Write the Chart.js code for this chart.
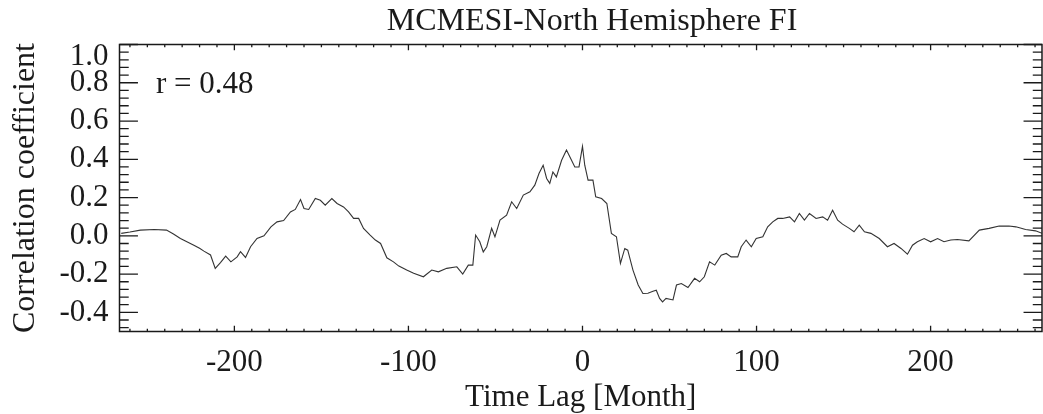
<!DOCTYPE html>
<html>
<head>
<meta charset="utf-8">
<title>MCMESI-North Hemisphere FI</title>
<script src="https://cdn.jsdelivr.net/npm/chart.js@4.4.1/dist/chart.umd.min.js"></script>
<style>
  html, body { margin: 0; padding: 0; background: #fff; overflow: hidden; }
  #wrap { width: 1043px; height: 414px; }
</style>
</head>
<body>
<div id="wrap"><canvas id="chart" width="1043" height="414"></canvas></div>
<script>
'use strict';

// ── Data ─────────────────────────────────────────────────────────────────────

const lags = [
  -265, -260, -254, -246, -239, -235, -231, -227, -223, -220, -217.5, -213.7,
  -211, -208, -205, -202, -198.4, -196.5, -193.6, -190.7, -187, -183, -179,
  -175.5, -171.7, -167.8, -165, -162, -160, -157.3, -153.5, -150.6, -147.8,
  -144, -141, -137.3, -134.4, -131.5, -128.6, -125.8, -122, -119, -116,
  -112.4, -108.6, -105.5, -101, -97, -91.4, -86.6, -82.8, -78, -72.2, -68.8,
  -65.6, -63, -61.4, -59, -57, -55, -52.2, -50.3, -47.4, -43.6, -40.7, -37.8,
  -34, -30.2, -27.4, -25, -22.6, -20.6, -18.8, -17, -15, -12, -9.2, -6.3,
  -4.4, -2, 0, 1.3, 3.2, 6, 7.6, 11, 14, 16.6, 19.5, 21.8, 24.3, 26, 29, 32,
  34.7, 37.6, 40.5, 42.4, 44.3, 46, 48, 52, 54, 56.8, 60.6, 64.4, 67.3, 70,
  73, 76, 79.7, 82.6, 85.4, 89.2, 91.2, 94, 97, 99.8, 103.6, 106.4, 109.3,
  112.2, 115, 119, 121.8, 124.6, 127.5, 130.4, 134.2, 138, 140.8, 143.7,
  146.6, 149.4, 153.3, 156, 159, 162, 165.7, 170.5, 175.2, 179, 183, 186.7,
  189.6, 192.4, 196.3, 200, 204, 207.7, 211.6, 215.4, 222, 228, 233.6, 239.4,
  245, 249, 254.6, 260.3, 264
];

const corr = [
  0.013, 0.02, 0.03, 0.033, 0.03, 0.01, -0.014, -0.032, -0.05, -0.065, -0.08, -0.10,
  -0.17, -0.14, -0.106, -0.136, -0.11, -0.083, -0.113, -0.057, -0.014, 0.0, 0.047,
  0.073, 0.08, 0.125, 0.138, 0.19, 0.143, 0.138, 0.195, 0.186, 0.16,
  0.195, 0.169, 0.151, 0.125, 0.091, 0.091, 0.039, 0.004, -0.022, -0.04,
  -0.115, -0.136, -0.158, -0.179, -0.196, -0.214, -0.179, -0.188, -0.17, -0.162, -0.2,
  -0.153, -0.153, 0.004, -0.031, -0.084, -0.057, 0.039, -0.005, 0.082, 0.108, 0.178, 0.143,
  0.213, 0.23, 0.265, 0.326, 0.369, 0.3, 0.274, 0.334, 0.308, 0.395, 0.448, 0.395,
  0.36, 0.36, 0.468, 0.369, 0.291, 0.291, 0.204, 0.195, 0.169, 0.013, -0.005, -0.144, -0.066, -0.075, -0.179, -0.257,
  -0.301, -0.3, -0.29, -0.284, -0.327, -0.345, -0.327, -0.335, -0.257, -0.249, -0.27, -0.222, -0.24, -0.214,
  -0.136, -0.153, -0.101, -0.092, -0.11, -0.11, -0.057, -0.022, -0.057, -0.014, -0.005, 0.047, 0.073,
  0.091, 0.091, 0.099, 0.073, 0.117, 0.082, 0.117, 0.091, 0.099, 0.082, 0.134,
  0.082, 0.061, 0.039, 0.021, 0.056, 0.021, 0.013, -0.014, -0.057, -0.04, -0.066, -0.096,
  -0.049, -0.031, -0.014, -0.031, -0.014, -0.031, -0.022, -0.019, -0.026, 0.03, 0.039, 0.051,
  0.051, 0.047, 0.033, 0.026, 0.013
];

const xTickValues = [-200, -100, 0, 100, 200];
const yTickValues = [-0.4, -0.2, 0.0, 0.2, 0.4, 0.6, 0.8, 1.0];

const titleText = 'MCMESI-North Hemisphere FI';
const rText = 'r = 0.48';

// ── Style ────────────────────────────────────────────────────────────────────

const FONT = "'Liberation Serif', 'Times New Roman', serif";
const INK = '#1a1a1a';

// IDL-style frame: box on all four sides with inward major/minor ticks
const idlFrame = {
  id: 'idlFrame',
  afterDraw(chart) {
    const { ctx, chartArea: a, scales: { x, y } } = chart;
    const w = a.right - a.left, h = a.bottom - a.top;
    const xMaj = 0.02 * h, yMaj = 0.02 * w;

    ctx.save();
    ctx.strokeStyle = INK;
    ctx.lineWidth = 1.5;
    ctx.strokeRect(a.left, a.top, w, h);

    ctx.lineWidth = 1.3;
    ctx.beginPath();
    for (let v = -260; v <= 260; v += 10) {
      const px = x.getPixelForValue(v);
      if (px < a.left || px > a.right) continue;
      const len = v % 100 === 0 ? xMaj : xMaj / 2;
      ctx.moveTo(px, a.bottom); ctx.lineTo(px, a.bottom - len);
      ctx.moveTo(px, a.top); ctx.lineTo(px, a.top + len);
    }
    for (let i = -12; i <= 25; i++) {
      const v = i * 0.04;
      const py = y.getPixelForValue(v);
      if (py < a.top - 0.5 || py > a.bottom + 0.5) continue;
      const len = i % 5 === 0 ? yMaj : yMaj / 2;
      ctx.moveTo(a.left, py); ctx.lineTo(a.left + len, py);
      ctx.moveTo(a.right, py); ctx.lineTo(a.right - len, py);
    }
    ctx.stroke();

    ctx.fillStyle = INK;
    ctx.font = '32px ' + FONT;
    ctx.textBaseline = 'alphabetic';
    ctx.textAlign = 'center';
    ctx.fillText(titleText, 592, 30);
    ctx.textAlign = 'left';
    ctx.font = '31px ' + FONT;
    ctx.fillText(rText, 156, 93);
    ctx.restore();
  }
};

// ── Chart ────────────────────────────────────────────────────────────────────

new Chart(document.getElementById('chart'), {
  type: 'line',
  data: {
    datasets: [{
      data: lags.map((l, i) => ({ x: l, y: corr[i] })),
      borderColor: '#333',
      borderWidth: 1.1,
      pointRadius: 0,
      tension: 0,
      fill: false,
    }],
  },
  options: {
    responsive: false,
    animation: false,
    events: [],
    layout: { padding: { top: 44.5, right: 1, left: 0, bottom: 0 } },
    plugins: { legend: { display: false }, title: { display: false }, tooltip: { enabled: false } },
    scales: {
      x: {
        type: 'linear',
        min: -266, max: 264,
        afterBuildTicks: s => { s.ticks = xTickValues.map(v => ({ value: v })); },
        afterFit: s => { s.height = 82.5; },
        grid: { display: false, drawTicks: false },
        border: { display: false },
        ticks: {
          color: INK, padding: 13, maxRotation: 0, autoSkip: false,
          font: { family: FONT, size: 31 },
          callback: v => String(v),
        },
        title: {
          display: true, text: 'Time Lag [Month]', color: INK,
          font: { family: FONT, size: 31 },
          padding: { top: 0, bottom: -2 },
        },
      },
      y: {
        min: -0.5, max: 1.0,
        afterBuildTicks: s => { s.ticks = yTickValues.map(v => ({ value: v })); },
        afterFit: s => { s.width = 119.5; },
        grid: { display: false, drawTicks: false },
        border: { display: false },
        ticks: {
          color: INK, padding: 11, autoSkip: false,
          font: { family: FONT, size: 31, lineHeight: 0.78 },
          callback: v => (Math.abs(v - 1) < 1e-9 ? ['', '1.0'] : v.toFixed(1)),
        },
        title: {
          display: true, text: 'Correlation coefficient', color: INK,
          font: { family: FONT, size: 32 },
          padding: { top: 6, bottom: 0 },
        },
      },
    },
  },
  plugins: [idlFrame],
});
</script>
</body>
</html>
